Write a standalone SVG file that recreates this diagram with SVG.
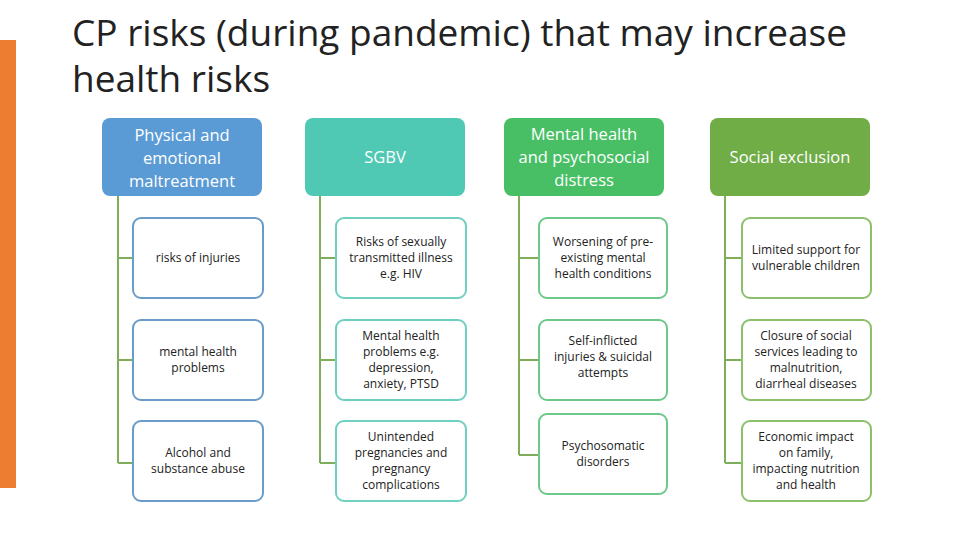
<svg xmlns="http://www.w3.org/2000/svg" width="960" height="540" viewBox="0 0 960 540">
<style>
text{font-family:"Open Sans","Liberation Sans",sans-serif;text-anchor:middle}
.h{font-size:16.5px;fill:#fff}
.c{font-size:12px;fill:#222}
.b{fill:#fff;stroke-width:2}
.ln{stroke:#7fae5a;stroke-width:2;fill:none}
</style>
<rect width="960" height="540" fill="#fff"/>
<rect x="0" y="40" width="16" height="448" fill="#ed7d31"/>
<text x="72" y="46" style="font-size:37px;fill:#222;text-anchor:start">CP risks (during pandemic) that may increase</text>
<text x="72" y="92" style="font-size:37px;fill:#222;text-anchor:start">health risks</text>
<g id="connectors">
<path class="ln" d="M118 196V463M118 258H133M118 360H133M118 463H133"/>
<path class="ln" d="M320 196V463M320 258H336M320 360H336M320 463H336"/>
<path class="ln" d="M519 196V455M519 258H539M519 360H539M519 455H539"/>
<path class="ln" d="M725 196V463M725 258H742M725 360H742M725 463H742"/>
</g>
<g id="h1"><rect x="102" y="118" width="160" height="78" rx="8" fill="#5b9bd5"/><text class="h" x="182" y="141">Physical and</text><text class="h" x="182" y="164">emotional</text><text class="h" x="182" y="187">maltreatment</text></g>
<g id="h2"><rect x="305" y="118" width="160" height="78" rx="8" fill="#4fc8b4"/><text class="h" x="385" y="163">SGBV</text></g>
<g id="h3"><rect x="504" y="118" width="160" height="78" rx="8" fill="#48bf65"/><text class="h" x="584" y="140">Mental health</text><text class="h" x="584" y="163">and psychosocial</text><text class="h" x="584" y="186">distress</text></g>
<g id="h4"><rect x="710" y="118" width="160" height="78" rx="8" fill="#70ad47"/><text class="h" x="790" y="163">Social exclusion</text></g>
<g id="c11"><rect class="b" x="133" y="218" width="130" height="80" rx="8" stroke="#6a9cc9"/><text class="c" x="198" y="262">risks of injuries</text></g>
<g id="c12"><rect class="b" x="133" y="320" width="130" height="80" rx="8" stroke="#6a9cc9"/><text class="c" x="198" y="356">mental health</text><text class="c" x="198" y="372">problems</text></g>
<g id="c13"><rect class="b" x="133" y="421" width="130" height="80" rx="8" stroke="#6a9cc9"/><text class="c" x="198" y="457">Alcohol and</text><text class="c" x="198" y="473">substance abuse</text></g>
<g id="c21"><rect class="b" x="336" y="218" width="130" height="80" rx="8" stroke="#6fcfc0"/><text class="c" x="401" y="246">Risks of sexually</text><text class="c" x="401" y="262">transmitted illness</text><text class="c" x="401" y="278">e.g. HIV</text></g>
<g id="c22"><rect class="b" x="336" y="320" width="130" height="80" rx="8" stroke="#6fcfc0"/><text class="c" x="401" y="340">Mental health</text><text class="c" x="401" y="356">problems e.g.</text><text class="c" x="401" y="372">depression,</text><text class="c" x="401" y="388">anxiety, PTSD</text></g>
<g id="c23"><rect class="b" x="336" y="421" width="130" height="80" rx="8" stroke="#6fcfc0"/><text class="c" x="401" y="441">Unintended</text><text class="c" x="401" y="457">pregnancies and</text><text class="c" x="401" y="473">pregnancy</text><text class="c" x="401" y="489">complications</text></g>
<g id="c31"><rect class="b" x="539" y="218" width="128" height="80" rx="8" stroke="#6cc98a"/><text class="c" x="603" y="246">Worsening of pre-</text><text class="c" x="603" y="262">existing mental</text><text class="c" x="603" y="278">health conditions</text></g>
<g id="c32"><rect class="b" x="539" y="320" width="128" height="80" rx="8" stroke="#6cc98a"/><text class="c" x="603" y="345">Self-inflicted</text><text class="c" x="603" y="361">injuries &amp; suicidal</text><text class="c" x="603" y="377">attempts</text></g>
<g id="c33"><rect class="b" x="539" y="414" width="128" height="80" rx="8" stroke="#6cc98a"/><text class="c" x="603" y="450">Psychosomatic</text><text class="c" x="603" y="466">disorders</text></g>
<g id="c41"><rect class="b" x="742" y="218" width="129" height="80" rx="8" stroke="#8cc06a"/><text class="c" x="806" y="254">Limited support for</text><text class="c" x="806" y="270">vulnerable  children</text></g>
<g id="c42"><rect class="b" x="742" y="320" width="129" height="80" rx="8" stroke="#8cc06a"/><text class="c" x="806" y="340">Closure of social</text><text class="c" x="806" y="356">services leading to</text><text class="c" x="806" y="372">malnutrition,</text><text class="c" x="806" y="388">diarrheal diseases</text></g>
<g id="c43"><rect class="b" x="742" y="421" width="129" height="80" rx="8" stroke="#8cc06a"/><text class="c" x="806" y="441">Economic impact</text><text class="c" x="806" y="457">on family,</text><text class="c" x="806" y="473">impacting nutrition</text><text class="c" x="806" y="489">and health</text></g>
</svg>
